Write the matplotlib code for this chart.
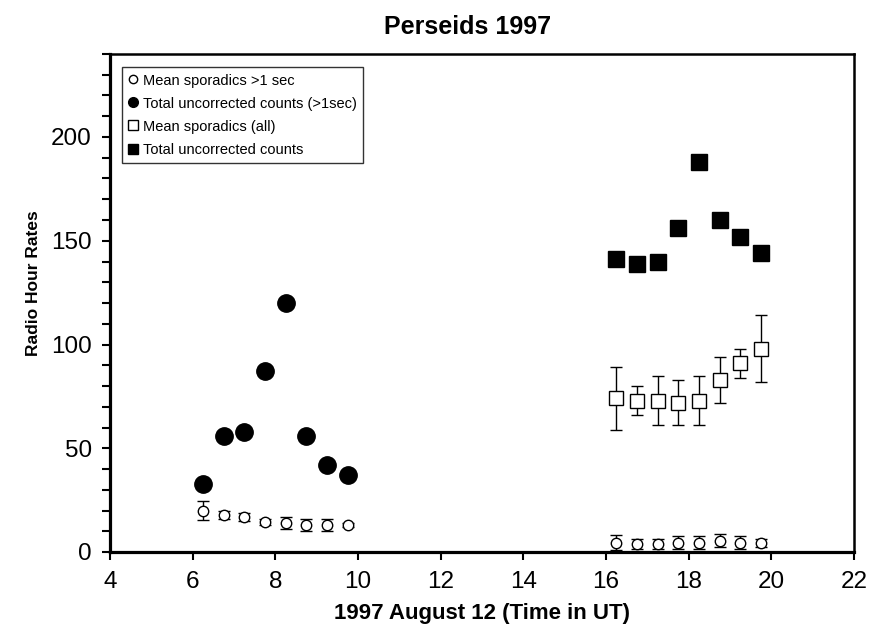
import matplotlib
matplotlib.use('Agg')
import matplotlib.pyplot as plt
from matplotlib.lines import Line2D
from matplotlib.ticker import MultipleLocator

plt.rcParams['font.family'] = ['Liberation Sans', 'DejaVu Sans']

# early group (>1 sec data)
t_early = [6.25, 6.75, 7.25, 7.75, 8.25, 8.75, 9.25, 9.75]
total_1sec = [33, 56, 58, 87, 120, 56, 42, 37]
spor_1sec_early = [20, 18, 17, 14.5, 14, 13, 13, 13]
spor_1sec_early_err = [4.5, 2, 2, 1.5, 3, 3, 3, 1]

# late group
t_late = [16.25, 16.75, 17.25, 17.75, 18.25, 18.75, 19.25, 19.75]
spor_1sec_late = [4.5, 4, 4, 4.5, 4.5, 5.5, 4.5, 4.5]
spor_1sec_late_err = [3.5, 2.5, 2.5, 3, 3, 3, 3, 2]
spor_all = [74, 73, 73, 72, 73, 83, 91, 98]
spor_all_err = [15, 7, 12, 11, 12, 11, 7, 16]
total_all = [141, 139, 140, 156, 188, 160, 152, 144]

labels = ['Mean sporadics >1 sec', 'Total uncorrected counts (>1sec)',
          'Mean sporadics (all)', 'Total uncorrected counts']

fig = plt.figure(figsize=(8.69, 6.24), dpi=100)
ax = fig.add_axes([110/869, 1-552/624, 744/869, 498/624])

ax.errorbar(t_early + t_late, spor_1sec_early + spor_1sec_late,
            yerr=spor_1sec_early_err + spor_1sec_late_err,
            fmt='o', ms=7.5, mfc='white', mec='black', mew=1, ecolor='black',
            elinewidth=1, capsize=4.5, capthick=1)
ax.plot(t_early, total_1sec, 'o', ms=12.5, color='black')
ax.errorbar(t_late, spor_all, yerr=spor_all_err, fmt='s', ms=9.5,
            mfc='white', mec='black', mew=1, ecolor='black', elinewidth=1,
            capsize=4.5, capthick=1)
ax.plot(t_late, total_all, 's', ms=11.5, color='black')

ax.set_xlim(4, 22)
ax.set_ylim(0, 240)
ax.set_xticks(range(4, 23, 2))
ax.set_yticks([0, 50, 100, 150, 200])
ax.yaxis.set_minor_locator(MultipleLocator(10))
ax.tick_params(which='both', direction='out', length=6, width=1.5,
               labelsize=17.5, top=False, right=False)
ax.tick_params(axis='x', pad=8)
ax.tick_params(axis='y', pad=7)

ax.spines['left'].set_linewidth(2.3)
ax.spines['bottom'].set_linewidth(2.3)
ax.spines['top'].set_linewidth(1.8)
ax.spines['right'].set_linewidth(1.8)

ax.set_title('Perseids 1997', fontsize=18, fontweight='bold', x=0.481, y=1.023)
ax.set_xlabel('1997 August 12 (Time in UT)', fontsize=16, fontweight='bold')
ax.xaxis.label.set_va('center')
ax.xaxis.set_label_coords(0.5, -0.123)
ax.set_ylabel('Radio Hour Rates', fontsize=12.5, fontweight='bold')
ax.yaxis.set_label_coords(-0.093, 0.54)

handles = [
    Line2D([], [], ls='none', marker='o', ms=6, mfc='white', mec='black', mew=1),
    Line2D([], [], ls='none', marker='o', ms=7, color='black'),
    Line2D([], [], ls='none', marker='s', ms=6.5, mfc='white', mec='black', mew=1),
    Line2D([], [], ls='none', marker='s', ms=7, color='black'),
]
leg = ax.legend(handles, labels, loc='upper left', bbox_to_anchor=(0.0157, 0.974),
                fontsize=10.5, frameon=True, fancybox=False, handlelength=0.6,
                handletextpad=0.4, borderpad=0.45, labelspacing=0.62,
                borderaxespad=0)
leg.get_frame().set_edgecolor('black')
leg.get_frame().set_linewidth(1)

fig.savefig('out.png', dpi=100)
